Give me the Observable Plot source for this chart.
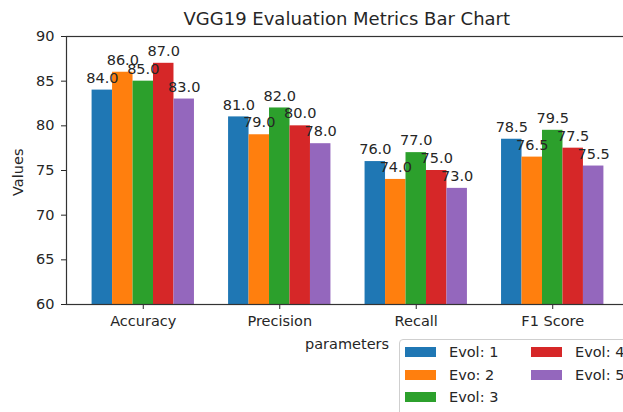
<!DOCTYPE html>
<html>
<head>
<meta charset="utf-8">
<script src="https://cdn.jsdelivr.net/npm/d3@7"></script>
<script src="https://cdn.jsdelivr.net/npm/@observablehq/plot@0.6"></script>
<style>
  html, body { margin: 0; padding: 0; background: #fff; }
  #fig { position: relative; width: 623px; height: 412px; overflow: hidden; font-family: "DejaVu Sans", sans-serif; color: #262626; background: #fff; }
  #fig svg { position: absolute; left: 0; top: 0; }
  .lbl { position: absolute; white-space: nowrap; font-size: 14.5px; line-height: 1; }
  #title { position: absolute; white-space: nowrap; font-size: 18px; line-height: 1; }
  #legend { position: absolute; left: 399px; top: 339px; width: 260px; height: 90px; border: 1px solid #cfcfcf; border-radius: 4px; background: rgba(255,255,255,0.85); }
  .entry { position: absolute; display: flex; align-items: center; font-size: 14.5px; line-height: 1; white-space: nowrap; }
  .patch { width: 31px; height: 10px; margin-right: 13px; }
</style>
</head>
<body>
<div id="fig"></div>
<script>
// ---- data ----
const categories = ["Accuracy", "Precision", "Recall", "F1 Score"];
const seriesNames = ["Evol: 1", "Evo: 2", "Evol: 3", "Evol: 4", "Evol: 5"];
const evol1 = [84.0, 81.0, 76.0, 78.5];
const evo2  = [86.0, 79.0, 74.0, 76.5];
const evol3 = [85.0, 82.0, 77.0, 79.5];
const evol4 = [87.0, 80.0, 75.0, 77.5];
const evol5 = [83.0, 78.0, 73.0, 75.5];
const yTicks = [60, 65, 70, 75, 80, 85, 90];
const colors = ["#1f77b4", "#ff7f0e", "#2ca02c", "#d62728", "#9467bd"];

const seriesValues = [evol1, evo2, evol3, evol4, evol5];
const barW = 0.15;
const rows = [];
seriesValues.forEach((vals, j) => {
  vals.forEach((v, i) => {
    const c = i + (j - (seriesValues.length - 1) / 2) * barW;
    rows.push({cat: categories[i], series: seriesNames[j], value: v, x1: c - barW / 2, x2: c + barW / 2, xc: c});
  });
});
const half = (seriesValues.length * barW) / 2;
const pad = 0.05 * (categories.length - 1 + 2 * half);
const xDomain = [-half - pad, categories.length - 1 + half + pad];

const W = 623, H = 372;
const chart = Plot.plot({
  width: W,
  height: H,
  marginTop: 36,
  marginBottom: H - 304,
  marginLeft: 66,
  marginRight: -6,
  style: {fontFamily: "DejaVu Sans, sans-serif", fontSize: "14.5px", color: "#262626", background: "transparent", overflow: "visible"},
  x: {domain: xDomain, ticks: d3.range(categories.length), tickFormat: i => categories[i], tickSize: 5, tickPadding: 6, label: null},
  y: {domain: [yTicks[0], yTicks[yTicks.length - 1]], ticks: yTicks, tickSize: 5, tickPadding: 7, label: null},
  color: {domain: seriesNames, range: colors},
  marks: [
    Plot.rect(rows, {x1: "x1", x2: "x2", y1: 0, y2: "value", fill: "series", clip: true}),
    Plot.text(rows, {x: "xc", y: "value", text: d => d.value.toFixed(1), dy: -12, fill: "#262626", fontSize: 14.5, textAnchor: "middle"}),
    Plot.frame({stroke: "#333", strokeWidth: 1.2})
  ]
});
const fig = document.getElementById("fig");
fig.appendChild(chart);

// title & axis labels
const title = document.createElement("div");
title.id = "title";
title.textContent = "VGG19 Evaluation Metrics Bar Chart";
fig.appendChild(title);
title.style.left = (347 - title.offsetWidth / 2) + "px";
title.style.top = (19 - title.offsetHeight / 2) + "px";

const xl = document.createElement("div");
xl.className = "lbl";
xl.textContent = "parameters";
fig.appendChild(xl);
xl.style.left = (347 - xl.offsetWidth / 2) + "px";
xl.style.top = (344 - xl.offsetHeight / 2) + "px";

const yl = document.createElement("div");
yl.className = "lbl";
yl.textContent = "Values";
fig.appendChild(yl);
yl.style.left = (18 - yl.offsetWidth / 2) + "px";
yl.style.top = (172 - yl.offsetHeight / 2) + "px";
yl.style.transform = "rotate(-90deg)";

// legend
const legend = document.createElement("div");
legend.id = "legend";
fig.appendChild(legend);
seriesNames.forEach((name, j) => {
  const col = Math.floor(j / 3), row = j % 3;
  const e = document.createElement("div");
  e.className = "entry";
  e.style.left = (5 + col * 126) + "px";
  e.style.top = (5 + row * 22.5) + "px";
  const p = document.createElement("div");
  p.className = "patch";
  p.style.background = colors[j];
  const t = document.createElement("span");
  t.textContent = name;
  e.appendChild(p); e.appendChild(t);
  legend.appendChild(e);
});
</script>
</body>
</html>
